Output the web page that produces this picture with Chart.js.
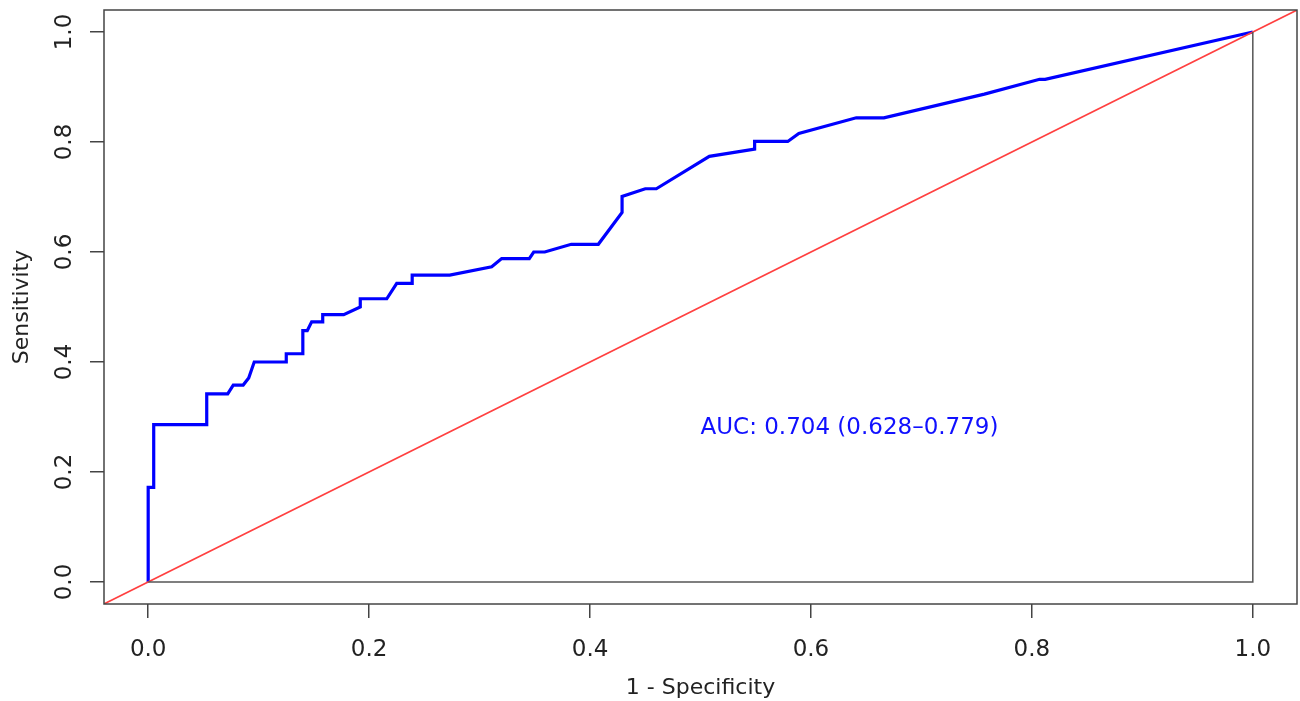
<!DOCTYPE html>
<html>
<head>
<meta charset="utf-8">
<script src="https://cdn.jsdelivr.net/npm/chart.js@4"></script>
<style>
  html, body { margin: 0; padding: 0; background: #fff; }
  #wrap { width: 1300px; height: 701px; }
</style>
</head>
<body>
<div id="wrap"><canvas id="roc"></canvas></div>
<script>
// ROC curve points
const fpr = [0, 0, 0.005, 0.005, 0.053, 0.053, 0.072, 0.077, 0.086, 0.091, 0.096, 0.125, 0.125,
  0.140, 0.140, 0.144, 0.148, 0.158, 0.158, 0.177, 0.192, 0.192, 0.216, 0.225, 0.239, 0.239,
  0.273, 0.311, 0.320, 0.345, 0.349, 0.359, 0.383, 0.4075, 0.429, 0.429, 0.450, 0.460, 0.508,
  0.549, 0.549, 0.579, 0.589, 0.641, 0.666, 0.757, 0.807, 0.812, 1];
const tpr = [0, 0.172, 0.172, 0.286, 0.286, 0.342, 0.342, 0.358, 0.358, 0.371, 0.400, 0.400, 0.415,
  0.415, 0.457, 0.457, 0.473, 0.473, 0.486, 0.486, 0.500, 0.515, 0.515, 0.543, 0.543, 0.558,
  0.558, 0.573, 0.588, 0.588, 0.600, 0.600, 0.614, 0.614, 0.672, 0.701, 0.715, 0.715, 0.774,
  0.787, 0.801, 0.801, 0.8155, 0.844, 0.844, 0.887, 0.914, 0.914, 1];

// chance line and the grey frame pROC draws
const diagX = [-0.1, 1.1];
const diagY = [-0.1, 1.1];
const frameX = [0, 1, 1];
const frameY = [0, 0, 1];

const tickValues = [0, 0.2, 0.4, 0.6, 0.8, 1.0];
const aucLabel = "AUC: 0.704 (0.628\u20130.779)";
const aucPos = [0.5, 0.28];

const toPoints = (xs, ys) => xs.map((x, i) => ({ x: x, y: ys[i] }));

// box round the plot + AUC text
const rBox = {
  id: "rBox",
  afterDatasetsDraw(chart) {
    const { ctx, chartArea, scales } = chart;
    ctx.save();
    ctx.strokeStyle = "#444";
    ctx.lineWidth = 1.5;
    ctx.strokeRect(chartArea.left, chartArea.top, chartArea.right - chartArea.left, chartArea.bottom - chartArea.top);
    ctx.fillStyle = "#1010ff";
    ctx.font = "23px 'DejaVu Sans'";
    ctx.textAlign = "left";
    ctx.textBaseline = "middle";
    ctx.fillText(aucLabel, scales.x.getPixelForValue(aucPos[0]), scales.y.getPixelForValue(aucPos[1]));
    ctx.restore();
  }
};

const setTicks = scale => {
  scale.ticks = tickValues.map(v => ({ value: v }));
};

const ctx = document.getElementById("roc").getContext("2d");
new Chart(ctx, {
  type: "line",
  data: {
    datasets: [
      {
        data: toPoints(frameX, frameY),
        borderColor: "#555",
        borderWidth: 1.5,
        pointRadius: 0,
        tension: 0
      },
      {
        data: toPoints(diagX, diagY),
        borderColor: "#ff4040",
        borderWidth: 1.6,
        pointRadius: 0,
        tension: 0,
        clip: 0
      },
      {
        data: toPoints(fpr, tpr),
        borderColor: "#0000ff",
        borderWidth: 3.2,
        pointRadius: 0,
        tension: 0
      }
    ]
  },
  options: {
    responsive: true,
    maintainAspectRatio: false,
    animation: false,
    layout: { padding: { top: 10, right: 3, left: 0, bottom: 0 } },
    plugins: {
      legend: { display: false },
      tooltip: { enabled: false }
    },
    scales: {
      x: {
        type: "linear",
        min: -0.04,
        max: 1.04,
        afterBuildTicks: setTicks,
        afterFit: scale => {
          scale.height = 97;
          scale.paddingLeft = 0;
          scale.paddingRight = 0;
        },
        border: { display: false },
        grid: { drawOnChartArea: false, tickLength: 14, color: "#444", lineWidth: 1.5 },
        ticks: {
          padding: 18,
          color: "#222",
          font: { family: "DejaVu Sans", size: 23 },
          maxRotation: 0,
          callback: v => v.toFixed(1)
        },
        title: {
          display: true,
          text: "1 - Specificity",
          color: "#222",
          font: { family: "DejaVu Sans", size: 22 },
          padding: { top: 0, bottom: 0 }
        }
      },
      y: {
        type: "linear",
        min: -0.04,
        max: 1.04,
        afterBuildTicks: setTicks,
        afterFit: scale => {
          scale.width = 104;
          scale.paddingTop = 0;
          scale.paddingBottom = 0;
        },
        border: { display: false },
        grid: { drawOnChartArea: false, tickLength: 14, color: "#444", lineWidth: 1.5 },
        ticks: {
          padding: 7,
          color: "#222",
          crossAlign: "center",
          minRotation: 90,
          maxRotation: 90,
          font: { family: "DejaVu Sans", size: 23 },
          callback: v => v.toFixed(1)
        },
        title: {
          display: true,
          text: "Sensitivity",
          color: "#222",
          font: { family: "DejaVu Sans", size: 22 },
          padding: { top: 9, bottom: 0 }
        }
      }
    }
  },
  plugins: [rBox]
});
</script>
</body>
</html>
